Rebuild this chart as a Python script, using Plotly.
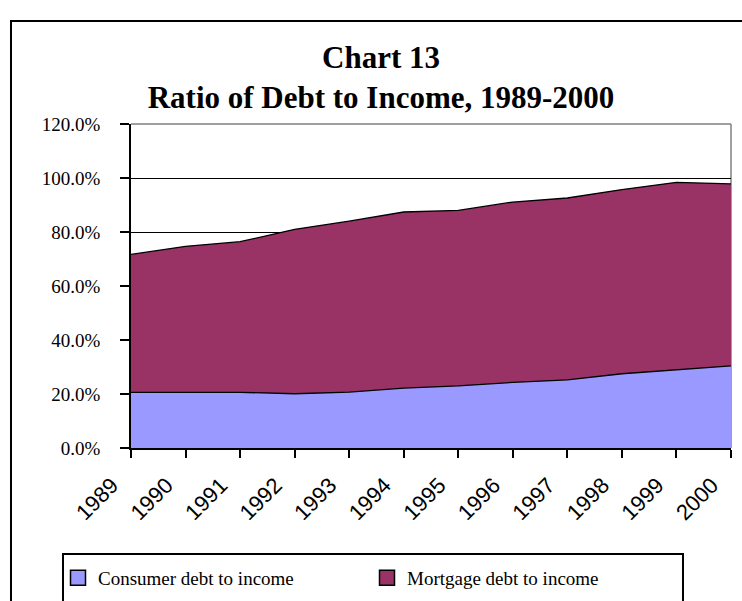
import plotly.graph_objects as go

# Household debt ratios, percent of disposable income
years = [1989, 1990, 1991, 1992, 1993, 1994, 1995, 1996, 1997, 1998, 1999, 2000]
consumer_debt = [20.6, 20.6, 20.6, 20.1, 20.7, 22.2, 23.0, 24.3, 25.2, 27.5, 29.0, 30.4]
mortgage_debt = [51.1, 54.1, 55.8, 60.9, 63.3, 65.2, 65.0, 66.8, 67.4, 68.2, 69.4, 67.4]

series_names = ["Consumer debt to income", "Mortgage debt to income"]
series_colors = ["#9999FF", "#993366"]

title_text = "Chart 13<br>Ratio of Debt to Income, 1989-2000"

SERIF = "Times New Roman, Liberation Serif, serif"
SANS = "Arial, Liberation Sans, sans-serif"

W, H = 742, 601
L, R, T, B = 131, 11, 124, 153
PW, PH = W - L - R, H - T - B


def px_x(x):
    return (x - L) / PW


def px_y(y):
    return 1 - (y - T) / PH


fig = go.Figure()

# stacked areas
for name, vals, col in zip(series_names, [consumer_debt, mortgage_debt], series_colors):
    fig.add_trace(go.Scatter(
        x=years, y=vals, name=name, stackgroup="debt", mode="lines",
        line=dict(color="black", width=1.3), fillcolor=col,
        showlegend=False, hoverinfo="x+y+name",
    ))

# legend swatches
for name, col in zip(series_names, series_colors):
    fig.add_trace(go.Scatter(
        x=[None], y=[None], name=name, mode="markers",
        marker=dict(symbol="square", size=15, color=col, line=dict(color="black", width=1.5)),
    ))

shapes = [
    # outer chart frame
    dict(type="rect", xref="paper", yref="paper",
         x0=px_x(11), x1=px_x(780), y0=px_y(640), y1=px_y(21),
         line=dict(color="black", width=2), fillcolor="rgba(0,0,0,0)", layer="below"),
    # plot area border (top and right)
    dict(type="line", xref="paper", yref="paper", x0=0, x1=1, y0=1, y1=1,
         line=dict(color="#808080", width=1.5), layer="below"),
    dict(type="line", xref="paper", yref="paper", x0=1, x1=1, y0=0, y1=1,
         line=dict(color="#808080", width=1.5), layer="below"),
    # legend box
    dict(type="rect", xref="paper", yref="paper",
         x0=px_x(63), x1=px_x(683), y0=px_y(602), y1=px_y(554),
         line=dict(color="black", width=2), fillcolor="white", layer="below"),
]

fig.update_layout(
    width=W, height=H,
    margin=dict(l=L, r=R, t=T, b=B, autoexpand=False),
    paper_bgcolor="white", plot_bgcolor="white",
    title=dict(text=title_text, x=381 / W, xanchor="center",
               yref="container", y=1 - 68 / H, yanchor="top",
               font=dict(family=SERIF, size=31, color="black", weight="bold")),
    xaxis=dict(range=[1989, 2000], dtick=1, tick0=1989, tickangle=-45,
               showgrid=False, zeroline=False,
               showline=True, linecolor="black", linewidth=1.5,
               ticks="outside", ticklen=8, tickwidth=1.5, tickcolor="black",
               ticklabelstandoff=6, ticklabelshift=-19, ticklabeloverflow="allow",
               tickfont=dict(family=SANS, size=22, color="black")),
    yaxis=dict(range=[0, 120], dtick=20, tick0=0, tickformat=".1f", ticksuffix="%",
               showgrid=True, gridcolor="black", gridwidth=1.3, zeroline=False,
               showline=True, linecolor="black", linewidth=1.5,
               ticks="outside", ticklen=9, tickwidth=1.5, tickcolor="black",
               ticklabelstandoff=16,
               tickfont=dict(family=SERIF, size=19, color="black")),
    legend=dict(orientation="h", traceorder="normal", x=px_x(58), xanchor="left",
                y=px_y(578), yanchor="middle", entrywidth=264,
                bgcolor="rgba(0,0,0,0)", borderwidth=0,
                font=dict(family=SERIF, size=19, color="black")),
    shapes=shapes,
)

fig.write_html("out.html")
